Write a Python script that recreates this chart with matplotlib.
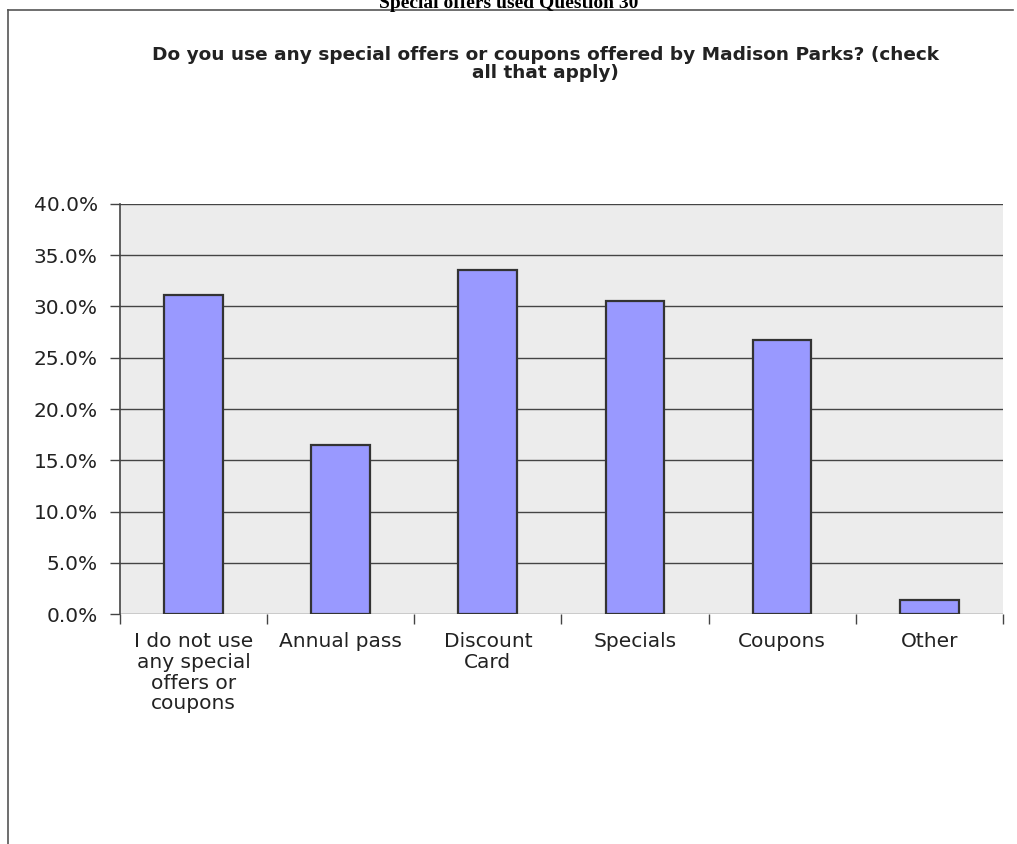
import matplotlib.pyplot as plt
import numpy as np
from matplotlib.lines import Line2D
from matplotlib.ticker import PercentFormatter

# Data
categories = ["I do not use\nany special\noffers or\ncoupons", "Annual pass", "Discount\nCard",
              "Specials", "Coupons", "Other"]
values = [31.1, 16.5, 33.6, 30.5, 26.7, 1.4]
yticks = [0, 5, 10, 15, 20, 25, 30, 35, 40]

fig = plt.figure(figsize=(10.17, 8.44), dpi=100)
ax = fig.add_axes([0.118, 0.2725, 0.868, 0.4858])

x = np.arange(len(categories)) + 0.5
ax.bar(x, values, width=0.4, color="#9999FF", edgecolor="#333333", linewidth=1.6, zorder=3)

ax.set_facecolor("#ECECEC")
ax.set_xlim(0, len(categories))
ax.set_ylim(0, 40)
ax.set_yticks(yticks)
ax.yaxis.set_major_formatter(PercentFormatter(decimals=1))
ax.grid(axis="y", color="#444444", linewidth=1, zorder=1)
ax.set_axisbelow(True)

ax.set_xticks(np.arange(len(categories) + 1))
ax.set_xticklabels([])
ax.set_xticks(x, minor=True)
ax.set_xticklabels(categories, minor=True)
ax.tick_params(axis="x", which="minor", length=0, pad=13, labelsize=14.5, labelcolor="#222222")
ax.tick_params(axis="x", which="major", length=7, color="#444444", width=1)
ax.tick_params(axis="y", length=7, color="#444444", width=1, labelsize=14.5, labelcolor="#222222", pad=9)

for lab in ax.get_xticklabels(minor=True):
    lab.set_linespacing(1.12)

for s in ["top", "right", "bottom"]:
    ax.spines[s].set_visible(False)
ax.spines["left"].set_color("#444444")
ax.spines["left"].set_linewidth(1.2)

# frame lines
fig.add_artist(Line2D([8 / 1017, 8 / 1017], [0, 1 - 9.5 / 844], color="#555555", linewidth=1.2))
fig.add_artist(Line2D([8 / 1017, 1013 / 1017], [1 - 9.5 / 844, 1 - 9.5 / 844], color="#555555", linewidth=1.2))

fig.text(0.5, 1 - 8 / 844, "Special offers used Question 30", ha="center", va="baseline",
         fontsize=14, fontweight="bold", family="Liberation Serif", color="black")
fig.text(0.536, 1 - 64 / 844,
         "Do you use any special offers or coupons offered by Madison Parks? (check\nall that apply)",
         ha="center", va="center", fontsize=13.3, fontweight="bold",
         color="#222222", linespacing=1.05)

fig.savefig("out.png", dpi=100)
